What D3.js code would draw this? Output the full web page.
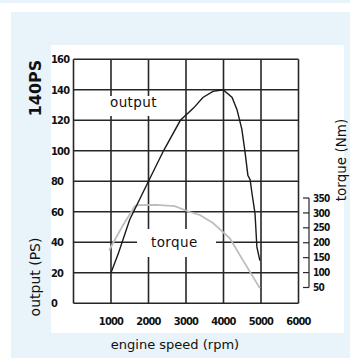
<!DOCTYPE html>
<html><head><meta charset="utf-8">
<script src="https://cdn.jsdelivr.net/npm/d3@7/dist/d3.min.js"></script>
<style>
html,body{margin:0;padding:0;background:#fff;}
svg{display:block;}
</style></head>
<body>
<svg id="c" width="350" height="358"></svg>
<script>
// ---- data ----
const rpmTicks = [1000, 2000, 3000, 4000, 5000, 6000];
const psTicks = [0, 20, 40, 60, 80, 100, 120, 140, 160];
const nmTicks = [50, 100, 150, 200, 250, 300, 350];
const outputRpm = [1000, 1200, 1500, 2000, 2400, 2850, 3200, 3450, 3720, 3990, 4230, 4360, 4490, 4570, 4650, 4710, 4760, 4840, 4890, 4970];
const outputPS  = [20, 33, 55, 80, 100, 120, 128, 135, 139, 140, 135, 127, 114, 100, 84, 81, 72, 59, 37, 28];
const torqueRpm = [950, 1320, 1640, 1720, 2200, 2700, 3100, 3370, 3720, 4170, 4520, 4970];
const torqueNm  = [175, 259, 323, 326, 327, 323, 303, 293, 266, 215, 141, 48];

const svg = d3.select("#c");
const W = 350, H = 358;
const blue = "#e8f3fa";
svg.append("rect").attr("x",0).attr("y",0).attr("width",W).attr("height",H).attr("fill","#fff");
svg.append("rect").attr("x",0).attr("y",0).attr("width",W).attr("height",3).attr("fill",blue);
svg.append("rect").attr("x",11).attr("y",12).attr("width",W-11).attr("height",H-12).attr("fill",blue);
svg.append("rect").attr("x",51).attr("y",45).attr("width",293).attr("height",288).attr("fill","#fff");

const x = d3.scaleLinear().domain([0, 6000]).range([73.5, 298.5]);
const y = d3.scaleLinear().domain([0, 160]).range([303.3, 59.3]);
const yT = d3.scaleLinear().domain([50, 350]).range([287.5, 198]);

const gridCol = "#262626";
const g = svg.append("g");
g.selectAll("line.h").data(psTicks).join("line")
  .attr("x1", x(0)).attr("x2", x(6000))
  .attr("y1", d => y(d)).attr("y2", d => y(d))
  .attr("stroke", gridCol).attr("stroke-width", 1.6);
g.selectAll("line.v").data([0].concat(rpmTicks)).join("line")
  .attr("y1", y(0)).attr("y2", y(160))
  .attr("x1", d => x(d)).attr("x2", d => x(d))
  .attr("stroke", gridCol).attr("stroke-width", 1.6);

svg.append("rect").attr("x",104).attr("y",96).attr("width",62).attr("height",20).attr("fill","#fff");
svg.append("rect").attr("x",137).attr("y",229).attr("width",79).attr("height",28).attr("fill","#fff");

svg.append("path")
  .datum(torqueRpm.map((r,i)=>[r, torqueNm[i]]))
  .attr("d", d3.line().x(d => x(d[0])).y(d => yT(d[1])))
  .attr("fill","none").attr("stroke","#bdbdbd").attr("stroke-width",1.8);
svg.append("path")
  .datum(outputRpm.map((r,i)=>[r, outputPS[i]]))
  .attr("d", d3.line().x(d=>x(d[0])).y(d => y(d[1])))
  .attr("fill","none").attr("stroke","#1a1a1a").attr("stroke-width",1.4);

const tickFont = "'Liberation Sans Narrow','DejaVu Sans Condensed',sans-serif";
svg.append("g").selectAll("text").data(psTicks).join("text")
  .attr("x", 51).attr("y", d => y(d)).attr("dy","0.36em")
  .attr("font-family", tickFont).attr("font-weight","bold").attr("font-size", 11)
  .attr("letter-spacing", -0.8).attr("fill","#111")
  .text(d => d);
svg.append("g").selectAll("text").data(rpmTicks).join("text")
  .attr("x", d => x(d)).attr("y", 321).attr("dy","0.36em").attr("text-anchor","middle")
  .attr("font-family", tickFont).attr("font-weight","bold").attr("font-size", 11)
  .attr("letter-spacing", -0.8).attr("fill","#111")
  .text(d => d);

const ta = svg.append("g");
ta.append("line").attr("x1",309).attr("x2",309).attr("y1",yT(350)).attr("y2",yT(50))
  .attr("stroke",gridCol).attr("stroke-width",1.2);
ta.selectAll("line.t").data(nmTicks).join("line")
  .attr("x1",303).attr("x2",309).attr("y1",d=>yT(d)).attr("y2",d=>yT(d))
  .attr("stroke",gridCol).attr("stroke-width",1.2);
ta.selectAll("text").data(nmTicks).join("text")
  .attr("x",313).attr("y",d=>yT(d)).attr("dy","0.36em")
  .attr("font-family", tickFont).attr("font-weight","bold").attr("font-size", 10)
  .attr("letter-spacing", -0.8).attr("fill","#111")
  .text(d=>d);

const lf = "'DejaVu Sans',sans-serif";
svg.append("text").attr("x",110).attr("y",106.5).attr("font-family",lf).attr("font-size",13.5)
  .attr("letter-spacing",0.4).attr("fill","#111").text("output");
svg.append("text").attr("x",151).attr("y",247).attr("font-family",lf).attr("font-size",13.5)
  .attr("letter-spacing",0.4).attr("fill","#111").text("torque");
svg.append("text").attr("x",175).attr("y",349).attr("text-anchor","middle")
  .attr("font-family",lf).attr("font-size",13).attr("fill","#111").text("engine speed (rpm)");
svg.append("text").attr("transform","translate(40,277) rotate(-90)").attr("text-anchor","middle")
  .attr("font-family",lf).attr("font-size",14).attr("fill","#111").text("output (PS)");
svg.append("text").attr("transform","translate(41,88) rotate(-90)").attr("text-anchor","middle")
  .attr("font-family",lf).attr("font-size",16).attr("font-weight","bold").attr("fill","#111").text("140PS");
svg.append("text").attr("transform","translate(346,160) rotate(-90)").attr("text-anchor","middle")
  .attr("font-family",lf).attr("font-size",13.5).attr("fill","#111").text("torque (Nm)");
</script>
</body></html>
